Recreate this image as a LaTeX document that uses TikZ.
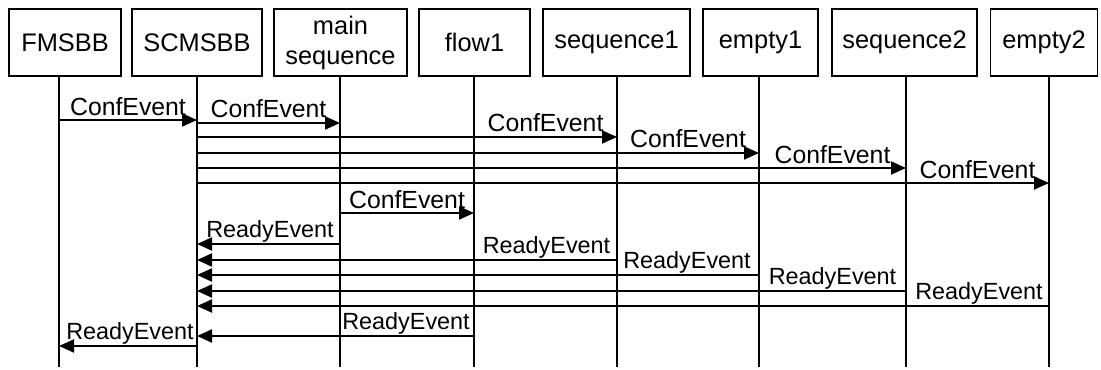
\documentclass[tikz,border=0pt]{standalone}
\usepackage{fontspec}
\setmainfont{Liberation Sans}
\usetikzlibrary{arrows.meta}
\begin{document}
\begin{tikzpicture}[x=0.5pt,y=-0.5pt,
  obj/.style={draw, line width=0.8pt, minimum height=33.5pt, inner sep=0pt, align=center,
    font=\fontsize{12.7}{15}\selectfont},
  life/.style={line width=1pt},
  msg/.style={line width=1pt, -{Triangle[length=7.5pt,width=6.5pt]}},
  conflbl/.style={anchor=base, inner sep=0pt, font=\fontsize{12.4}{14}\selectfont, yshift=2.5pt},
  readylbl/.style={anchor=base, inner sep=0pt, font=\fontsize{11.7}{14}\selectfont, yshift=3.5pt}]
\useasboundingbox (0,0) rectangle (1101,369);

% objects
\node[obj, minimum width=56pt]   (fm)  at (65,42.5)   {FMSBB};
\node[obj, minimum width=65pt]   (sc)  at (197,42.5)  {SCMSBB};
\node[obj, minimum width=66.5pt] (ms)  at (340.5,42.5){main\\sequence};
\node[obj, minimum width=55.5pt] (f1)  at (474.5,42.5){flow1};
\node[obj, minimum width=73.5pt] (s1)  at (616.5,42.5){sequence1};
\node[obj, minimum width=57.5pt] (e1)  at (760.5,42.5){empty1};
\node[obj, minimum width=72.5pt] (s2)  at (904.5,42.5){sequence2};
\node[obj, minimum width=53.5pt] (e2)  at (1044,42.5) {empty2};

% lifeline tops
\coordinate (lfm) at (59,76);
\coordinate (lsc) at (197,76);
\coordinate (lms) at (340,76);
\coordinate (lf1) at (474,76);
\coordinate (ls1) at (617,76);
\coordinate (le1) at (759,76);
\coordinate (ls2) at (906,76);
\coordinate (le2) at (1049,76);

\foreach \l in {lfm,lsc,lms,lf1,ls1,le1,ls2,le2}
  \draw[life] (\l) -- (\l |- 0,367);

% configuration events
\draw[msg] (lfm |- 0,120) -- (lsc |- 0,120);
\node[conflbl] (c1) at (128,120) {ConfEvent};
\draw[msg] (lsc |- 0,123) -- (lms |- 0,123);
\node[conflbl] (c2) at (268.5,123) {ConfEvent};
\draw[msg] (lsc |- 0,137) -- (ls1 |- 0,137);
\node[conflbl] (c3) at (545.5,137) {ConfEvent};
\draw[msg] (lsc |- 0,153) -- (le1 |- 0,153);
\node[conflbl] (c4) at (688,153) {ConfEvent};
\draw[msg] (lsc |- 0,168) -- (ls2 |- 0,168);
\node[conflbl] (c5) at (832.5,168) {ConfEvent};
\draw[msg] (lsc |- 0,183) -- (le2 |- 0,183);
\node[conflbl] (c6) at (977.5,183) {ConfEvent};
\draw[msg] (lms |- 0,213) -- (lf1 |- 0,213);
\node[conflbl] (c7) at (407,213) {ConfEvent};

% ready events
\draw[msg] (lms |- 0,244) -- (lsc |- 0,244);
\node[readylbl] (r1) at (270,244) {ReadyEvent};
\draw[msg] (ls1 |- 0,260) -- (lsc |- 0,260);
\node[readylbl] (r2) at (546.5,260) {ReadyEvent};
\draw[msg] (le1 |- 0,275) -- (lsc |- 0,275);
\node[readylbl] (r3) at (687,275) {ReadyEvent};
\draw[msg] (ls2 |- 0,291) -- (lsc |- 0,291);
\node[readylbl] (r4) at (832.5,291) {ReadyEvent};
\draw[msg] (le2 |- 0,306) -- (lsc |- 0,306);
\node[readylbl] (r5) at (979,306) {ReadyEvent};
\draw[msg] (lf1 |- 0,336) -- (lsc |- 0,336);
\node[readylbl] (r6) at (406,336) {ReadyEvent};
\draw[msg] (lsc |- 0,346) -- (lfm |- 0,346);
\node[readylbl] (r7) at (130,346) {ReadyEvent};
\end{tikzpicture}
\end{document}
